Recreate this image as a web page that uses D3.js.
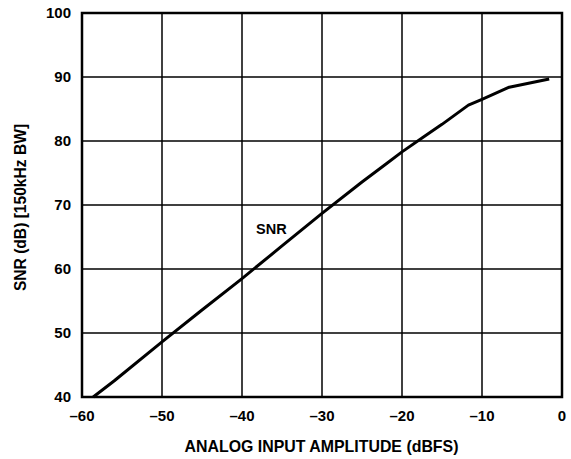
<!DOCTYPE html>
<html>
<head>
<meta charset="utf-8">
<script src="https://cdn.jsdelivr.net/npm/d3@7"></script>
<style>
  html, body { margin: 0; padding: 0; background: #fff; }
  text { font-family: "Liberation Sans", Arial, sans-serif; font-weight: bold; fill: #000; }
</style>
</head>
<body>
<svg id="chart" width="571" height="459"></svg>
<script>
// Data
const amplitude = [-58.6, -56, -50, -45, -40, -35, -30, -25, -22, -20, -17, -15, -11.7, -10, -6.6, -1.6];
const snr       = [40.0, 42.5, 48.6, 53.6, 58.5, 63.6, 68.7, 73.6, 76.4, 78.3, 80.9, 82.6, 85.6, 86.5, 88.4, 89.7];
const xTicks = [-60, -50, -40, -30, -20, -10, 0];
const yTicks = [40, 50, 60, 70, 80, 90, 100];
const xTitle = "ANALOG INPUT AMPLITUDE (dBFS)";
const yTitle = "SNR (dB) [150kHz BW]";
const seriesLabel = "SNR";

const svg = d3.select("#chart");
const m = { left: 82, top: 13, right: 562, bottom: 397 };

const x = d3.scaleLinear().domain([-60, 0]).range([m.left, m.right]);
const y = d3.scaleLinear().domain([40, 100]).range([m.bottom, m.top]);

// grid
const g = svg.append("g");
g.selectAll("line.vx").data(xTicks).join("line")
  .attr("x1", d => x(d)).attr("x2", d => x(d))
  .attr("y1", m.top).attr("y2", m.bottom)
  .attr("stroke", "#000").attr("stroke-width", 1.5);
g.selectAll("line.hy").data(yTicks).join("line")
  .attr("y1", d => y(d)).attr("y2", d => y(d))
  .attr("x1", m.left).attr("x2", m.right)
  .attr("stroke", "#000").attr("stroke-width", 1.5);

// frame
svg.append("rect")
  .attr("x", m.left).attr("y", m.top)
  .attr("width", m.right - m.left).attr("height", m.bottom - m.top)
  .attr("fill", "none").attr("stroke", "#000").attr("stroke-width", 2.5);

// tick labels
const fmt = d => d < 0 ? "\u2013" + Math.abs(d) : String(d);
svg.append("g").selectAll("text").data(xTicks).join("text")
  .attr("x", d => x(d)).attr("y", 421)
  .attr("text-anchor", "middle").attr("font-size", 15)
  .text(fmt);
svg.append("g").selectAll("text").data(yTicks).join("text")
  .attr("x", 71).attr("y", d => y(d) + 5.4)
  .attr("text-anchor", "end").attr("font-size", 15)
  .text(fmt);

// axis titles
svg.append("text")
  .attr("x", 321.5).attr("y", 452)
  .attr("text-anchor", "middle").attr("font-size", 15.9)
  .text(xTitle);
svg.append("text")
  .attr("transform", "translate(25.5,207.5) rotate(-90)")
  .attr("text-anchor", "middle").attr("font-size", 15.6)
  .text(yTitle);

// line
const line = d3.line().x((d, i) => x(amplitude[i])).y((d, i) => y(snr[i]));
svg.append("path")
  .datum(snr)
  .attr("d", line)
  .attr("fill", "none").attr("stroke", "#000").attr("stroke-width", 3)
  .attr("stroke-linejoin", "round");

// series label
svg.append("text")
  .attr("x", 256).attr("y", 233.5)
  .attr("font-size", 14.5)
  .text(seriesLabel);
</script>
</body>
</html>
